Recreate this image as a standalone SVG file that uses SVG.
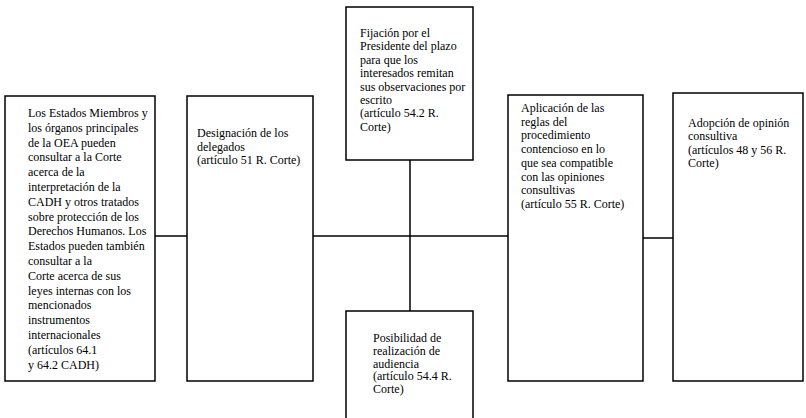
<svg xmlns="http://www.w3.org/2000/svg" width="806" height="418" viewBox="0 0 806 418">
<style>
.box{fill:#fff;stroke:#000;stroke-width:1.5}
.ln{fill:none;stroke:#000;stroke-width:1.5}
text{font-family:"Liberation Serif","Times New Roman",serif;font-size:12px;fill:#000}
</style>
<rect width="806" height="418" fill="#fff"/>
<g id="connectors">
<line class="ln" x1="155" y1="236" x2="187" y2="236"/>
<line class="ln" x1="313" y1="236" x2="508" y2="236"/>
<line class="ln" x1="410" y1="160" x2="410" y2="311"/>
<line class="ln" x1="643" y1="238" x2="673" y2="238"/>
</g>
<g id="n1">
<rect class="box" x="5" y="96" width="150" height="285"/>
<text x="28" y="117">
<tspan x="28" dy="0">Los Estados Miembros y</tspan>
<tspan x="28" dy="14.8">los órganos principales</tspan>
<tspan x="28" dy="14.8">de la OEA pueden</tspan>
<tspan x="28" dy="14.8">consultar a la Corte</tspan>
<tspan x="28" dy="14.8">acerca de la</tspan>
<tspan x="28" dy="14.8">interpretación de la</tspan>
<tspan x="28" dy="14.8">CADH y otros tratados</tspan>
<tspan x="28" dy="14.8">sobre protección de los</tspan>
<tspan x="28" dy="14.8">Derechos Humanos. Los</tspan>
<tspan x="28" dy="14.8">Estados pueden también</tspan>
<tspan x="28" dy="14.8">consultar a la</tspan>
<tspan x="28" dy="14.8">Corte acerca de sus</tspan>
<tspan x="28" dy="14.8">leyes internas con los</tspan>
<tspan x="28" dy="14.8">mencionados</tspan>
<tspan x="28" dy="14.8">instrumentos</tspan>
<tspan x="28" dy="14.8">internacionales</tspan>
<tspan x="28" dy="14.8">(artículos 64.1</tspan>
<tspan x="28" dy="14.8">y 64.2 CADH)</tspan>
</text>
</g>
<g id="n2">
<rect class="box" x="187" y="96" width="126" height="285"/>
<text x="197" y="137">
<tspan x="197" dy="0">Designación de los</tspan>
<tspan x="197" dy="13.5">delegados</tspan>
<tspan x="197" dy="13.5">(artículo 51 R. Corte)</tspan>
</text>
</g>
<g id="n3">
<rect class="box" x="346" y="7" width="127" height="153"/>
<text x="360" y="37">
<tspan x="360" dy="0">Fijación por el</tspan>
<tspan x="360" dy="13.4">Presidente del plazo</tspan>
<tspan x="360" dy="13.4">para que los</tspan>
<tspan x="360" dy="13.4">interesados remitan</tspan>
<tspan x="360" dy="13.4">sus observaciones por</tspan>
<tspan x="360" dy="13.4">escrito</tspan>
<tspan x="360" dy="13.4">(artículo 54.2 R.</tspan>
<tspan x="360" dy="13.4">Corte)</tspan>
</text>
</g>
<g id="n4">
<rect class="box" x="346" y="311" width="127" height="112"/>
<text x="373" y="342">
<tspan x="373" dy="0">Posibilidad de</tspan>
<tspan x="373" dy="12.8">realización de</tspan>
<tspan x="373" dy="12.8">audiencia</tspan>
<tspan x="373" dy="12.8">(artículo 54.4 R.</tspan>
<tspan x="373" dy="12.8">Corte)</tspan>
</text>
</g>
<g id="n5">
<rect class="box" x="508" y="95" width="135" height="286"/>
<text x="521" y="112">
<tspan x="521" dy="0">Aplicación de las</tspan>
<tspan x="521" dy="13.7">reglas del</tspan>
<tspan x="521" dy="13.7">procedimiento</tspan>
<tspan x="521" dy="13.7">contencioso en lo</tspan>
<tspan x="521" dy="13.7">que sea compatible</tspan>
<tspan x="521" dy="13.7">con las opiniones</tspan>
<tspan x="521" dy="13.7">consultivas</tspan>
<tspan x="521" dy="13.7">(artículo 55 R. Corte)</tspan>
</text>
</g>
<g id="n6">
<rect class="box" x="673" y="93" width="130" height="288"/>
<text x="688" y="127">
<tspan x="688" dy="0">Adopción de opinión</tspan>
<tspan x="688" dy="13.3">consultiva</tspan>
<tspan x="688" dy="13.3">(artículos 48 y 56 R.</tspan>
<tspan x="688" dy="13.3">Corte)</tspan>
</text>
</g>
</svg>
